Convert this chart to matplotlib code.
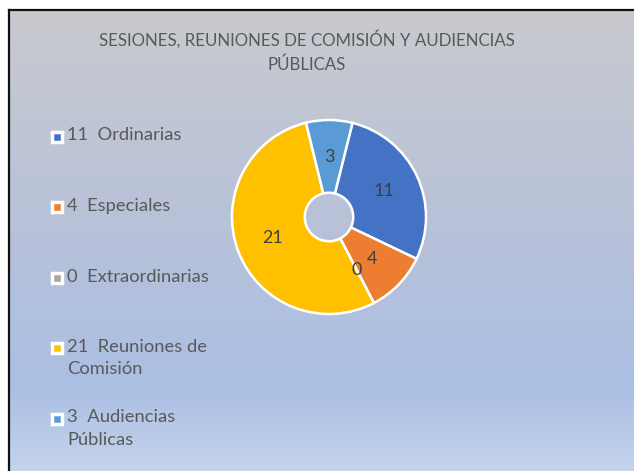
import numpy as np
import matplotlib.pyplot as plt
from matplotlib.colors import LinearSegmentedColormap

# chart data
categorias = ['Ordinarias', 'Especiales', 'Extraordinarias',
              'Reuniones de\nComisión', 'Audiencias\nPúblicas']
valores = [11, 4, 0, 21, 3]
colores = ['#4472C4', '#ED7D31', '#A5A5A5', '#FFC000', '#5B9BD5']
titulo = 'SESIONES, REUNIONES DE COMISIÓN Y AUDIENCIAS\nPÚBLICAS'

W, H = 634, 471
fig = plt.figure(figsize=(W / 100, H / 100), dpi=100)
fig.patch.set_facecolor('white')
plt.rcParams['font.family'] = ['Lato', 'DejaVu Sans']

# chart area with vertical gradient fill
bg = fig.add_axes([9 / W, 0, 1 - 9 / W, (H - 10) / H])
grad = LinearSegmentedColormap.from_list(
    'fondo', [(0.0, '#c9cacf'), (0.45, '#b8c2d8'), (0.82, '#abbfe4'), (1.0, '#c5d3ec')])
bg.imshow(np.linspace(0, 1, 256).reshape(-1, 1), aspect='auto', cmap=grad,
          extent=[0, 1, 1, 0])
bg.set_xlim(0, 1)
bg.set_ylim(1, 0)
bg.set_xticks([])
bg.set_yticks([])
for s in ['right', 'bottom']:
    bg.spines[s].set_visible(False)
for s in ['left', 'top']:
    bg.spines[s].set_linewidth(1.6)
    bg.spines[s].set_color('#111111')

# overlay in pixel coordinates for title and legend
ov = fig.add_axes([0, 0, 1, 1])
ov.set_xlim(0, W)
ov.set_ylim(H, 0)
ov.axis('off')
ov.patch.set_alpha(0)

ov.text(307, 51.5, titulo, ha='center', va='center', fontsize=12.2,
        color='#595959', linespacing=1.55)

y0, paso = 136, 70.5
for i, (cat, val, col) in enumerate(zip(categorias, valores, colores)):
    y = y0 + i * paso
    ov.plot(57, y + 0.5, marker='s', ms=7.5, mfc=col, mec='white', mew=2.5)
    ov.text(67, y - 8.5, f'{val}  {cat}', ha='left', va='top', fontsize=13.2,
            color='#595959', linespacing=1.5)

# donut
cx, cy, r = 329, 217, 97
ax = fig.add_axes([(cx - r) / W, (H - cy - r) / H, 2 * r / W, 2 * r / H])
total = sum(valores)
ax.pie(valores, colors=colores, startangle=76, counterclock=False, radius=1,
       wedgeprops=dict(width=0.75, edgecolor='white', linewidth=1.8),
       autopct=lambda p: f'{round(p * total / 100)}', pctdistance=0.62,
       textprops=dict(fontsize=13, color='#404040'))
ax.set_xlim(-1, 1)
ax.set_ylim(-1, 1)
ax.set_aspect('equal')

fig.savefig('out.png', dpi=100)
